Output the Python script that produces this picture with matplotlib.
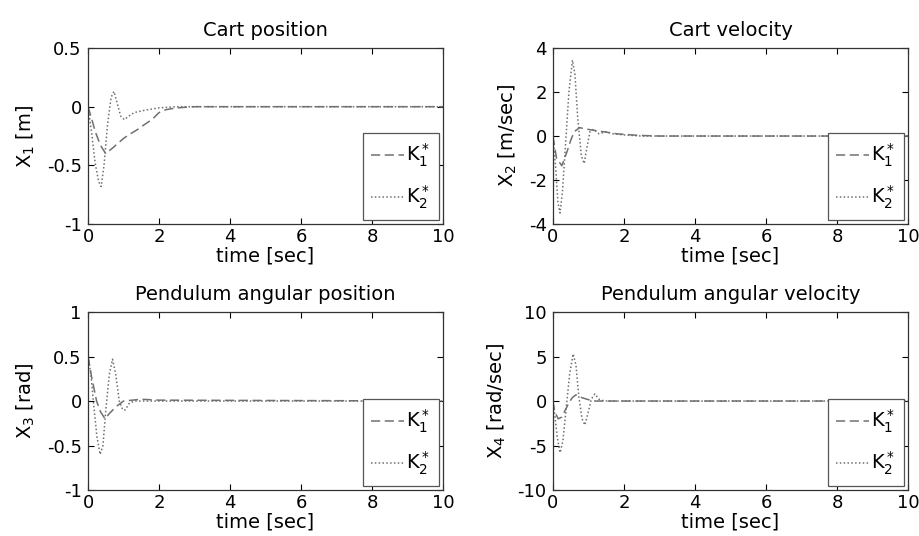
import numpy as np
import matplotlib
matplotlib.use("Agg")
import matplotlib.pyplot as plt

plt.rcParams['font.family'] = ['DejaVu Sans']
plt.rcParams['mathtext.default'] = 'regular'
plt.rcParams['font.size'] = 13

titles = ["Cart position", "Cart velocity", "Pendulum angular position", "Pendulum angular velocity"]
ylabels = ["X$_1$ [m]", "X$_2$ [m/sec]", "X$_3$ [rad]", "X$_4$ [rad/sec]"]
labels = ["K$^*_1$", "K$^*_2$"]
yticks = [[-1, -0.5, 0, 0.5], [-4, -2, 0, 2, 4], [-1, -0.5, 0, 0.5, 1], [-10, -5, 0, 5, 10]]
yticklabels = [["-1", "-0.5", "0", "0.5"], ["-4", "-2", "0", "2", "4"],
               ["-1", "-0.5", "0", "0.5", "1"], ["-10", "-5", "0", "5", "10"]]

# cart position
t1_k1 = [0, 0.1, 0.2, 0.35, 0.5, 0.7, 0.85, 1.0, 1.2, 1.42, 1.6, 1.8, 2.0, 2.2, 2.5, 3.0, 10]
x1_k1 = [0, -0.1, -0.21, -0.33, -0.40, -0.35, -0.31, -0.27, -0.23, -0.19, -0.15, -0.11, -0.05, -0.025, -0.01, 0, 0]
t1_k2 = [0, 0.1, 0.2, 0.3, 0.37, 0.45, 0.55, 0.65, 0.73, 0.82, 0.92, 1.02, 1.15, 1.3, 1.6, 2.0, 2.5, 10]
x1_k2 = [0, -0.22, -0.48, -0.64, -0.68, -0.5, -0.15, 0.08, 0.13, 0.03, -0.08, -0.11, -0.08, -0.05, -0.03, -0.01, 0, 0]

# cart velocity
t2_k1 = [0, 0.1, 0.25, 0.4, 0.5, 0.6, 0.75, 1.0, 1.4, 1.8, 2.4, 3.0, 10]
x2_k1 = [0, -1.0, -1.35, -0.7, -0.2, 0.2, 0.38, 0.3, 0.2, 0.1, 0.03, 0, 0]
t2_k2 = [0, 0.08, 0.14, 0.2, 0.27, 0.35, 0.45, 0.55, 0.62, 0.7, 0.8, 0.88, 0.96, 1.05, 1.15, 1.3, 1.5, 1.7, 2.0, 2.5, 10]
x2_k2 = [0, -1.5, -3.0, -3.5, -2.5, -0.5, 2.0, 3.45, 2.8, 0.8, -0.9, -1.25, -0.5, 0.25, 0.3, 0.1, 0.2, 0.1, 0.05, 0, 0]

# pendulum angle
t3_k1 = [0, 0.1, 0.24, 0.35, 0.48, 0.6, 0.8, 1.0, 1.5, 2.0, 10]
x3_k1 = [0.5, 0.27, 0.0, -0.12, -0.2, -0.14, -0.06, 0, 0.02, 0.01, 0]
t3_k2 = [0, 0.08, 0.16, 0.25, 0.34, 0.42, 0.5, 0.6, 0.69, 0.78, 0.88, 0.98, 1.05, 1.15, 1.3, 10]
x3_k2 = [0.5, 0.3, -0.05, -0.4, -0.6, -0.5, -0.1, 0.3, 0.47, 0.3, 0.0, -0.1, -0.1, -0.03, 0, 0]

# pendulum angular velocity
t4_k1 = [0, 0.05, 0.15, 0.25, 0.35, 0.45, 0.55, 0.65, 0.8, 1.0, 1.2, 10]
x4_k1 = [0, -1.2, -2.0, -1.8, -1.0, -0.2, 0.4, 0.7, 0.4, 0.15, 0, 0]
t4_k2 = [0, 0.05, 0.12, 0.2, 0.28, 0.37, 0.47, 0.57, 0.65, 0.73, 0.82, 0.9, 0.98, 1.08, 1.18, 1.3, 1.45, 10]
x4_k2 = [0, -1.5, -4.0, -5.8, -4.5, -1.0, 3.0, 5.3, 4.0, 0.5, -2.0, -2.7, -1.5, 0.2, 0.8, 0.2, 0, 0]

series = [((t1_k1, x1_k1), (t1_k2, x1_k2)),
          ((t2_k1, x2_k1), (t2_k2, x2_k2)),
          ((t3_k1, x3_k1), (t3_k2, x3_k2)),
          ((t4_k1, x4_k1), (t4_k2, x4_k2))]

rects = [[0.0957, 0.582, 0.3858, 0.3284],
         [0.601, 0.582, 0.386, 0.3284],
         [0.0957, 0.0858, 0.3858, 0.332],
         [0.601, 0.0858, 0.386, 0.332]]

gray = '#707070'
fig = plt.figure(figsize=(9.2, 5.36), dpi=100)
for i in range(4):
    ax = fig.add_axes(rects[i])
    (ta, xa), (tb, xb) = series[i]
    ax.plot(ta, xa, color=gray, lw=1.1, linestyle=(0, (6, 3)), label=labels[0])
    ax.plot(tb, xb, color=gray, lw=1.1, linestyle=(0, (1, 1.5)), label=labels[1])
    ax.set_xlim(0, 10)
    ax.set_ylim(yticks[i][0], yticks[i][-1])
    ax.set_xticks([0, 2, 4, 6, 8, 10])
    ax.set_yticks(yticks[i])
    ax.set_yticklabels(yticklabels[i])
    ax.tick_params(direction='in', top=True, right=True, length=4, width=0.8)
    ax.tick_params(axis='x', pad=3)
    ax.tick_params(axis='y', pad=4.5)
    for s in ax.spines.values():
        s.set_linewidth(0.9)
        s.set_color('#333333')
    ax.set_title(titles[i], fontsize=14, pad=9)
    ax.set_xlabel("time [sec]", fontsize=14, labelpad=0)
    ax.set_ylabel(ylabels[i], fontsize=14, labelpad=7)
    leg = ax.legend(loc='lower right', fancybox=False, framealpha=1, edgecolor='#555555',
                    handlelength=1.7, borderaxespad=0.2, borderpad=0.45, labelspacing=0.75,
                    handletextpad=0.1, fontsize=14)
    leg.get_frame().set_linewidth(0.9)

plt.savefig("out.png", dpi=100)
